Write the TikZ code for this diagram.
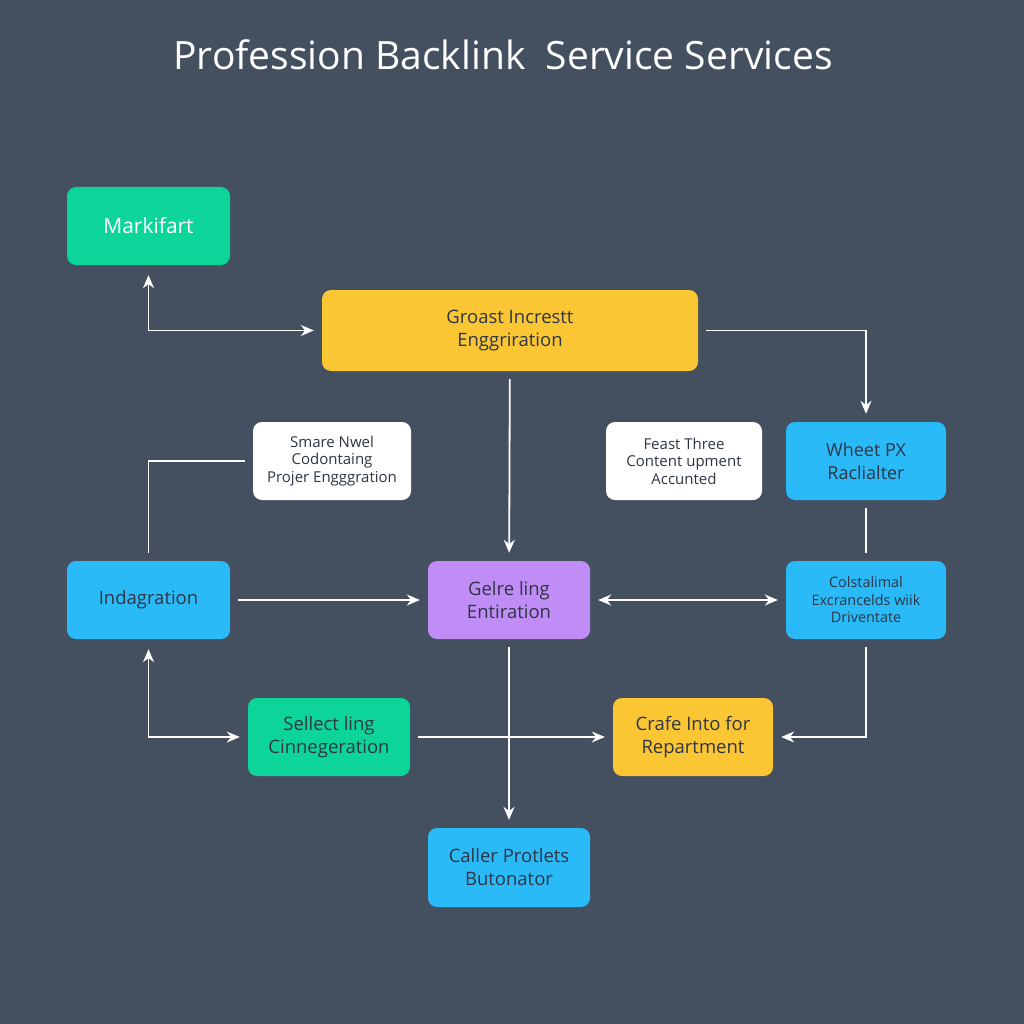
\documentclass[tikz,border=0pt]{standalone}
\usepackage{fontspec}
\setmainfont{Open Sans}
\usetikzlibrary{arrows.meta}
\definecolor{bg}{HTML}{444F60}
\definecolor{cgreen}{HTML}{0DD59A}
\definecolor{cyellow}{HTML}{FBC633}
\definecolor{cblue}{HTML}{2ABAF8}
\definecolor{cpurple}{HTML}{BF8DF5}
\definecolor{ctext}{HTML}{2E3544}
\tikzset{
  box/.style={rounded corners=9pt, draw=none, align=center, text=ctext, font=\fontsize{18.5}{23}\selectfont, inner sep=2pt},
  smallbox/.style={box, fill=white, font=\fontsize{15}{17.5}\selectfont},
  conn/.style={draw=white, line width=1.8pt, shorten <=8pt, shorten >=8pt},
  arr/.style={conn, -{Stealth[length=13pt,width=11pt]}},
  darr/.style={conn, {Stealth[length=13pt,width=11pt]}-{Stealth[length=13pt,width=11pt]}}
}
\begin{document}
\begin{tikzpicture}[x=1pt,y=-1pt]
\fill[bg] (0,0) rectangle (1024,1024);
\useasboundingbox (0,0) rectangle (1024,1024);
\node[text=white, font=\fontsize{39}{44}\selectfont] (title) at (503,55) {Profession Backlink\ \ Service Services};

\node[box, fill=cgreen, text=white, font=\fontsize{21}{25}\selectfont, minimum width=163pt, minimum height=78pt] (mark) at (148.5,226) {Markifart};
\node[box, fill=cyellow, minimum width=376pt, minimum height=81pt] (groast) at (510,330.5) {Groast Increstt\\Enggriration};
\node[smallbox, minimum width=158pt, minimum height=78pt] (smare) at (332,461) {Smare Nwel\\Codontaing\\Projer Engggration};
\node[smallbox, minimum width=156pt, minimum height=78pt] (feast) at (684,461) {Feast Three\\Content upment\\Accunted};
\node[box, fill=cblue, minimum width=160pt, minimum height=78pt, font=\fontsize{18}{23}\selectfont] (wheet) at (866,461) {Wheet PX\\Raclialter};
\node[box, fill=cblue, minimum width=163pt, minimum height=78pt] (indag) at (148.5,600) {Indagration};
\node[box, fill=cpurple, minimum width=162pt, minimum height=78pt] (gelre) at (509,600) {Gelre ling\\Entiration};
\node[box, fill=cblue, minimum width=160pt, minimum height=78pt, font=\fontsize{14.4}{17.5}\selectfont] (colst) at (866,600) {Colstalimal\\Excrancelds wiik\\Driventate};
\node[box, fill=cgreen, minimum width=162pt, minimum height=78pt] (sell) at (329,737) {Sellect ling\\Cinnegeration};
\node[box, fill=cyellow, minimum width=160pt, minimum height=78pt] (crafe) at (693,737) {Crafe Into for\\Repartment};
\node[box, fill=cblue, minimum width=162pt, minimum height=79pt] (caller) at (509,867.5) {Caller Protlets\\Butonator};

\draw[darr, shorten <=10pt] (mark) |- (groast);
\draw[arr] (groast) -| (wheet);
\draw[arr] (groast) -- (gelre);
\draw[conn] (smare) -| (indag);
\draw[conn] (wheet) -- (colst);
\draw[arr] (indag) -- (gelre);
\draw[darr] (gelre) -- (colst);
\draw[darr, shorten <=10pt] (indag) |- (sell);
\draw[arr] (sell) -- (crafe);
\draw[arr] (gelre) -- (caller);
\draw[arr] (colst) |- (crafe);
\end{tikzpicture}
\end{document}
